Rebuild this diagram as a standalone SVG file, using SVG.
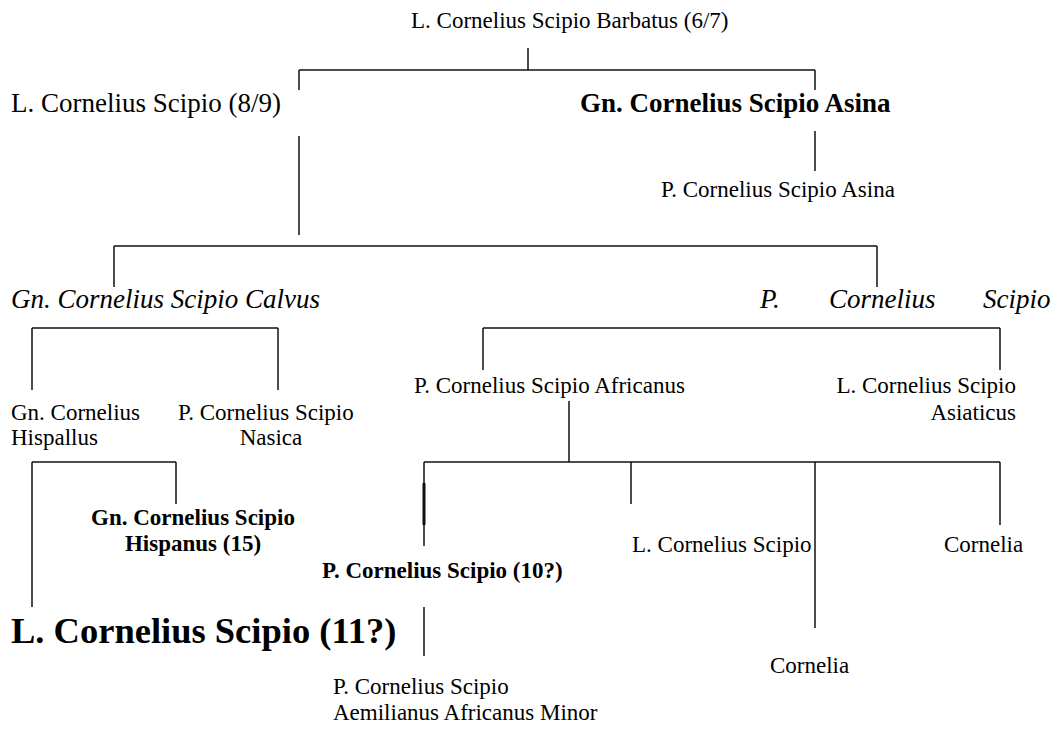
<svg xmlns="http://www.w3.org/2000/svg" width="1054" height="729" viewBox="0 0 1054 729">
<style>
text{font-family:"Liberation Serif","Times New Roman",serif;fill:#000}
.n{font-size:23px}
.l{font-size:27px}
.b{font-weight:bold}
.i{font-style:italic}
.c line{stroke:#111;stroke-width:1.5;fill:none}
</style>
<rect width="1054" height="729" fill="#fff"/>
<g class="c" id="connectors">
<line x1="528" y1="48" x2="528" y2="70"/>
<line x1="299" y1="70" x2="815" y2="70"/>
<line x1="299" y1="70" x2="299" y2="90"/>
<line x1="815" y1="70" x2="815" y2="90"/>
<line x1="299" y1="136" x2="299" y2="235"/>
<line x1="815" y1="131" x2="815" y2="171"/>
<line x1="114" y1="246" x2="877" y2="246"/>
<line x1="114" y1="246" x2="114" y2="287"/>
<line x1="877" y1="246" x2="877" y2="287"/>
<line x1="32" y1="328" x2="278" y2="328"/>
<line x1="32" y1="328" x2="32" y2="390"/>
<line x1="278" y1="328" x2="278" y2="390"/>
<line x1="483" y1="328" x2="1000" y2="328"/>
<line x1="483" y1="328" x2="483" y2="370"/>
<line x1="1000" y1="328" x2="1000" y2="370"/>
<line x1="32" y1="462" x2="176" y2="462"/>
<line x1="32" y1="462" x2="32" y2="607"/>
<line x1="176" y1="462" x2="176" y2="504"/>
<line x1="569" y1="401" x2="569" y2="462"/>
<line x1="424" y1="462" x2="1000" y2="462"/>
<line x1="424" y1="462" x2="424" y2="546"/>
<line x1="424" y1="483" x2="424" y2="525" style="stroke-width:3"/>
<line x1="631" y1="462" x2="631" y2="504"/>
<line x1="815" y1="462" x2="815" y2="628"/>
<line x1="1000" y1="462" x2="1000" y2="525"/>
<line x1="424" y1="607" x2="424" y2="656"/>
</g>
<g id="barbatus"><text class="n" x="411" y="28">L. Cornelius Scipio Barbatus (6/7)</text></g>
<g id="lucius89"><text class="l" x="11" y="112">L. Cornelius Scipio (8/9)</text></g>
<g id="gnasina"><text class="l b" x="580" y="112">Gn. Cornelius Scipio Asina</text></g>
<g id="pasina"><text class="n" x="661" y="197">P. Cornelius Scipio Asina</text></g>
<g id="calvus"><text class="l i" x="11" y="308">Gn. Cornelius Scipio Calvus</text></g>
<g id="publius"><text class="l i" y="308"><tspan x="760">P.</tspan><tspan x="829">Cornelius</tspan><tspan x="983">Scipio</tspan></text></g>
<g id="hispallus"><text class="n" x="11" y="420">Gn. Cornelius</text><text class="n" x="11" y="445">Hispallus</text></g>
<g id="nasica"><text class="n" x="178" y="420">P. Cornelius Scipio</text><text class="n" x="271" y="445" text-anchor="middle">Nasica</text></g>
<g id="africanus"><text class="n" x="414" y="393">P. Cornelius Scipio Africanus</text></g>
<g id="asiaticus"><text class="n" x="1016" y="393" text-anchor="end">L. Cornelius Scipio</text><text class="n" x="1016" y="420" text-anchor="end">Asiaticus</text></g>
<g id="hispanus"><text class="n b" x="193" y="525" text-anchor="middle">Gn. Cornelius Scipio</text><text class="n b" x="193" y="551" text-anchor="middle">Hispanus (15)</text></g>
<g id="lucius11"><text class="b" style="font-size:36.5px" x="11" y="643">L. Cornelius Scipio (11?)</text></g>
<g id="publius10"><text class="n b" x="322" y="578">P. Cornelius Scipio (10?)</text></g>
<g id="aemilianus"><text class="n" x="333" y="694">P. Cornelius Scipio</text><text class="n" x="333" y="720">Aemilianus Africanus Minor</text></g>
<g id="lucius"><text class="n" x="632" y="552">L. Cornelius Scipio</text></g>
<g id="cornelia1"><text class="n" x="944" y="552">Cornelia</text></g>
<g id="cornelia2"><text class="n" x="770" y="673">Cornelia</text></g>
</svg>
